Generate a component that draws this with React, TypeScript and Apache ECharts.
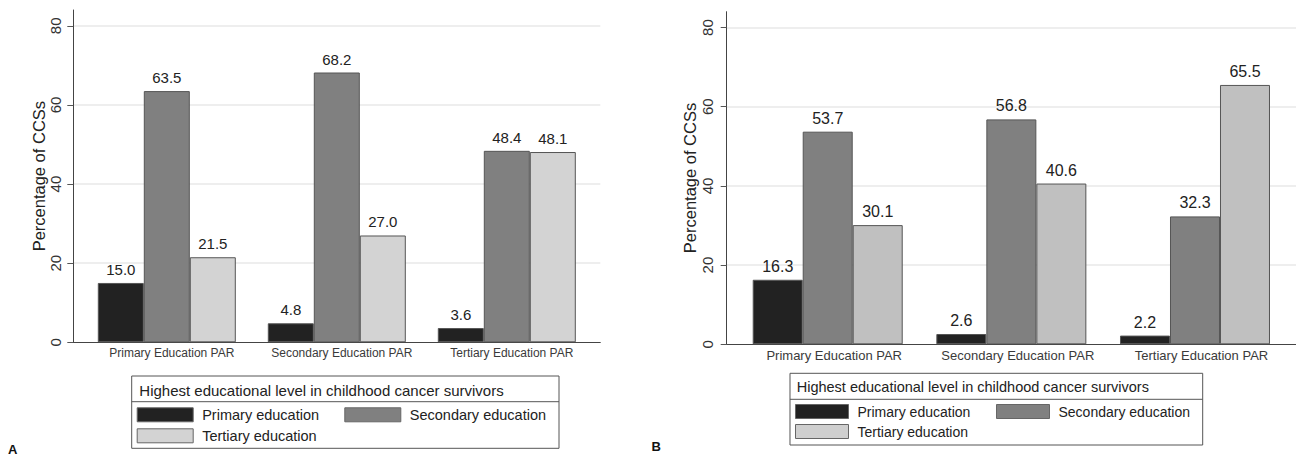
import React, { useEffect, useRef } from "react";
import * as echarts from "echarts";

const categories = ["Primary Education PAR", "Secondary Education PAR", "Tertiary Education PAR"];
const seriesNames = ["Primary education", "Secondary education", "Tertiary education"];

// Panel A
const aPrimary = [15.0, 4.8, 3.6];
const aSecondary = [63.5, 68.2, 48.4];
const aTertiary = [21.5, 27.0, 48.1];

// Panel B
const bPrimary = [16.3, 2.6, 2.2];
const bSecondary = [53.7, 56.8, 32.3];
const bTertiary = [30.1, 40.6, 65.5];

const yTicks = [0, 20, 40, 60, 80];
const yTitle = "Percentage of CCSs";
const legendTitle = "Highest educational level in childhood cancer survivors";
const panelLetters = ["A", "B"];

const FONT = 'Arial, "Liberation Sans", Helvetica, sans-serif';
const colorsA = ["#222222", "#808080", "#d3d3d3"];
const colorsB = ["#222222", "#808080", "#c0c0c0"];
const legendColorsB = ["#222222", "#808080", "#cfcfcf"];

function toPoints(vals: number[]) {
  return categories.map((_, i) => [i, vals[i]]);
}

function makeAxes(gridIndex: number, p: any) {
  const xAxis = {
    type: "value",
    gridIndex,
    min: -0.55,
    max: 2.55,
    splitLine: { show: false },
    axisTick: { show: false },
    axisLine: { show: true, onZero: false, lineStyle: { color: "#444", width: 1 } },
    axisLabel: {
      customValues: [0, 1, 2],
      formatter: (v: number) => categories[Math.round(v)] ?? "",
      fontSize: p.catFont,
      fontFamily: FONT,
      color: "#3a3a3a",
      margin: p.catMargin,
      padding: [0, 0, 0, p.catShift],
    },
  };
  const yAxis = {
    type: "value",
    gridIndex,
    min: 0,
    max: 84,
    interval: 20,
    name: yTitle,
    nameLocation: "middle",
    nameGap: p.nameGap,
    nameTextStyle: { fontSize: p.nameFont, fontFamily: FONT, color: "#222" },
    axisLine: { show: true, onZero: false, lineStyle: { color: "#444", width: 1 } },
    axisTick: { show: true, length: 6, customValues: yTicks, lineStyle: { color: "#555" } },
    axisLabel: {
      customValues: yTicks,
      rotate: 90,
      fontSize: 15,
      fontFamily: FONT,
      color: "#333",
      margin: p.tickMargin,
    },
    splitLine: { show: true, showMinLine: false, lineStyle: { color: "#e8e8e8", width: 1.5 } },
  };
  return { xAxis, yAxis };
}

function makeSeries(idx: number, vals: number[][], colors: string[], p: any) {
  return vals.map((v, k) => ({
    name: seriesNames[k],
    type: "bar",
    xAxisIndex: idx,
    yAxisIndex: idx,
    data: toPoints(v),
    barWidth: p.barWidth,
    barGap: "0%",
    itemStyle: { color: colors[k], borderColor: "#555", borderWidth: 1 },
    label: {
      show: true,
      position: "top",
      distance: p.labelDist,
      fontSize: p.labelFont,
      fontFamily: FONT,
      color: "#222",
      formatter: (d: any) => Number(d.value[1]).toFixed(1),
    },
  }));
}

function makeLegends(p: any, colors: string[]) {
  const pos = [
    [p.col1, p.row1],
    [p.col2, p.row1],
    [p.col1, p.row2],
  ];
  return seriesNames.map((n, k) => ({
    show: true,
    left: pos[k][0],
    top: pos[k][1],
    padding: 0,
    icon: "rect",
    itemWidth: p.swW,
    itemHeight: 14,
    selectedMode: false,
    textStyle: { fontSize: p.legFont, fontFamily: FONT, color: "#222", lineHeight: 14, padding: [0, 0, 0, 4] },
    data: [{ name: n, itemStyle: { color: colors[k], borderColor: "#666", borderWidth: 1 } }],
  }));
}

function frame(p: any) {
  return [
    {
      type: "rect",
      shape: { x: p.bx, y: p.by, width: p.bw, height: p.bh },
      style: { fill: "none", stroke: "#555", lineWidth: 1 },
      silent: true,
    },
    {
      type: "line",
      shape: { x1: p.bx, y1: p.sep, x2: p.bx + p.bw, y2: p.sep },
      style: { stroke: "#555", lineWidth: 1 },
      silent: true,
    },
    {
      type: "text",
      x: p.tx,
      y: p.ty,
      style: {
        text: legendTitle,
        fontSize: p.titleFont,
        fontFamily: FONT,
        fill: "#222",
        verticalAlign: "middle",
        align: "left",
      },
      silent: true,
    },
  ];
}

export default function App() {
  const ref = useRef<HTMLDivElement>(null);
  useEffect(() => {
    if (!ref.current) return;
    const chart = echarts.init(ref.current, undefined, { renderer: "svg" });
    const pA = {
      catFont: 12, catMargin: 5, catShift: 10, nameGap: 18, nameFont: 16.5, tickMargin: 10,
      barWidth: 46, labelDist: 6, labelFont: 15,
      col1: 136.7, col2: 344.3, row1: 407.3, row2: 428.3, swW: 56, legFont: 14.5,
      bx: 131.7, by: 376, bw: 427.3, bh: 72.3, sep: 401.7, tx: 139.3, ty: 390, titleFont: 15,
    };
    const pB = {
      catFont: 13, catMargin: 5, catShift: 13, nameGap: 23, nameFont: 16.5, tickMargin: 12,
      barWidth: 50, labelDist: 5.5, labelFont: 16,
      col1: 795, col2: 996, row1: 404, row2: 424, swW: 53, legFont: 14,
      bx: 790, by: 373.3, bw: 412.7, bh: 71.7, sep: 399.3, tx: 796.7, ty: 386.7, titleFont: 14.5,
    };
    const axA = makeAxes(0, pA);
    const axB = makeAxes(1, pB);
    chart.setOption({
      animation: false,
      backgroundColor: "#ffffff",
      grid: [
        { left: 73.3, top: 10, width: 527, height: 332.3, containLabel: false },
        { left: 726.7, top: 11.7, width: 570, height: 332.6, containLabel: false },
      ],
      xAxis: [axA.xAxis, axB.xAxis],
      yAxis: [axA.yAxis, axB.yAxis],
      legend: [...makeLegends(pA, colorsA), ...makeLegends(pB, legendColorsB)],
      series: [
        ...makeSeries(0, [aPrimary, aSecondary, aTertiary], colorsA, pA),
        ...makeSeries(1, [bPrimary, bSecondary, bTertiary], colorsB, pB),
      ],
      graphic: [
        ...frame(pA),
        ...frame(pB),
        {
          type: "text",
          x: 8,
          y: 449,
          style: { text: panelLetters[0], fontSize: 13, fontWeight: "bold", fontFamily: FONT, fill: "#111", verticalAlign: "middle" },
        },
        {
          type: "text",
          x: 651.5,
          y: 446.7,
          style: { text: panelLetters[1], fontSize: 13, fontWeight: "bold", fontFamily: FONT, fill: "#111", verticalAlign: "middle" },
        },
      ],
    });
    return () => chart.dispose();
  }, []);
  return (
    <div
      ref={ref}
      style={{ position: "fixed", left: 0, top: 0, width: 1296, height: 457, background: "#fff" }}
    />
  );
}
